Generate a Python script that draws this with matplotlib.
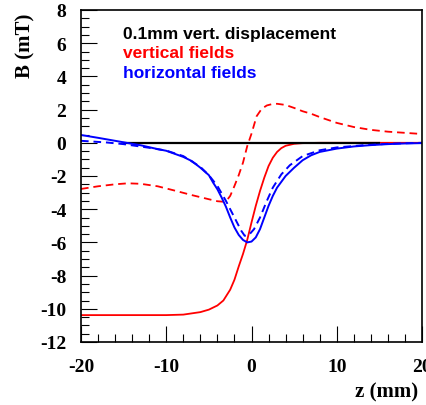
import matplotlib
matplotlib.use("Agg")
import matplotlib.pyplot as plt
from matplotlib.ticker import MultipleLocator

# --- data ---
z_red_solid = [-20, -15, -10, -8, -6, -5, -4, -3.3, -2.5, -2, -1.5, -1, -0.5, 0, 0.5, 1, 1.5, 2, 2.5, 3, 3.5, 4, 5, 6, 8, 12, 16, 20]
b_red_solid = [-10.38, -10.38, -10.38, -10.35, -10.2, -10.05, -9.8, -9.5, -8.85, -8.25, -7.45, -6.7, -5.85, -4.8, -3.8, -2.9, -2.1, -1.4, -0.9, -0.55, -0.32, -0.18, -0.06, -0.02, 0.0, 0.0, 0.0, 0.0]

z_red_dash = [-20, -18, -16, -14.5, -13, -11, -9, -7, -5, -4, -3.3, -2.8, -2.5, -2, -1.5, -1, -0.5, 0, 0.6, 1.2, 1.8, 2.4, 3, 4, 5, 6, 7, 8, 10, 12, 14, 16, 18, 20]
b_red_dash = [-2.78, -2.62, -2.5, -2.44, -2.47, -2.62, -2.88, -3.15, -3.4, -3.52, -3.55, -3.4, -3.2, -2.6, -1.95, -1.2, -0.2, 0.55, 1.6, 2.05, 2.25, 2.33, 2.35, 2.28, 2.1, 1.9, 1.75, 1.55, 1.2, 0.95, 0.78, 0.67, 0.6, 0.53]

z_blue_solid = [-20, -18, -16, -15, -13, -11, -10, -8, -7, -6, -5, -4.5, -4, -3.5, -3, -2.5, -2, -1.5, -1, -0.5, 0, 0.5, 1, 1.5, 2, 2.5, 3, 4, 5, 6, 7, 8, 9, 10, 12, 14, 16, 18, 20]
b_blue_solid = [0.47, 0.3, 0.12, 0.03, -0.15, -0.38, -0.48, -0.85, -1.1, -1.5, -1.95, -2.4, -2.8, -3.3, -3.85, -4.5, -5.1, -5.55, -5.85, -6.0, -5.95, -5.7, -5.2, -4.5, -3.8, -3.2, -2.7, -2.0, -1.5, -1.05, -0.75, -0.55, -0.45, -0.35, -0.22, -0.14, -0.08, -0.04, -0.02]

z_blue_dash = [-20, -17, -15, -12, -10, -8, -6, -5, -4, -3, -2, -1.2, -0.8, -0.3, 0.3, 1, 1.8, 2.5, 3.5, 4.5, 6, 8, 10, 13, 16, 20]
b_blue_dash = [0.12, 0.02, -0.08, -0.3, -0.47, -0.8, -1.45, -1.95, -2.6, -3.5, -4.5, -5.3, -5.6, -5.55, -5.2, -4.5, -3.5, -2.7, -1.9, -1.35, -0.8, -0.45, -0.28, -0.15, -0.06, 0.0]

zero_line_z = [-15, 15]
zero_line_b = [0, 0]

legend_lines = ["0.1mm vert. displacement", "vertical fields", "horizontal fields"]
legend_colors = ["black", "#ff0000", "#0000ff"]

x_ticks = [-20, -10, 0, 10, 20]
y_ticks = [-12, -10, -8, -6, -4, -2, 0, 2, 4, 6, 8]

# --- figure ---
plt.rcParams['lines.scale_dashes'] = False
plt.rcParams['axes.unicode_minus'] = False
fig = plt.figure(figsize=(4.26, 4.06), dpi=100)
ax = fig.add_axes([81/426, 1-343/406, (422-81)/426, (343-11)/406])

red = "#ff0000"
blue = "#0000ff"
ax.plot(z_red_solid, b_red_solid, color=red, lw=1.3)
ax.plot(zero_line_z, zero_line_b, color="black", lw=1.6)
ax.plot(z_red_dash, b_red_dash, color=red, lw=1.3, dashes=(5.5, 3.5))
ax.plot(z_blue_solid, b_blue_solid, color=blue, lw=1.4)
ax.plot(z_blue_dash, b_blue_dash, color=blue, lw=1.4, dashes=(5.5, 3.5))

ax.set_xlim(-20, 20)
ax.set_ylim(-12, 8)
ax.set_xticks(x_ticks)
ax.set_yticks(y_ticks)
ax.set_xticklabels([str(v) for v in x_ticks])
ax.set_yticklabels([str(v) for v in y_ticks])
ax.xaxis.set_minor_locator(MultipleLocator(2))
ax.yaxis.set_minor_locator(MultipleLocator(0.5))
ax.tick_params(which='both', direction='in', top=False, right=False, color='black', width=0.8)
ax.tick_params(which='major', length=11.3)
ax.tick_params(which='minor', length=5.8)

serif = ['Liberation Serif', 'DejaVu Serif']
for lab in ax.get_xticklabels() + ax.get_yticklabels():
    lab.set_fontfamily(serif)
    lab.set_fontweight('bold')
    lab.set_fontsize(14)
ax.tick_params(axis='y', pad=10.5)
ax.tick_params(axis='x', pad=11.5)

for s in ax.spines.values():
    s.set_linewidth(1.2)

fig.text(25/426, 1-46/406, "B (mT)", rotation=90, ha='center', va='center',
         fontfamily=serif, fontweight='bold', fontsize=15)
fig.text(418/426, 1-392/406, "z (mm)", ha='right', va='center',
         fontfamily=serif, fontweight='bold', fontsize=15)

ys = [34, 53, 73]
for t, c, y in zip(legend_lines, legend_colors, ys):
    fig.text(123/426, 1-y/406, t, color=c, ha='left', va='center',
             fontfamily=['Liberation Sans', 'DejaVu Sans'], fontweight='bold', fontsize=12.5)

fig.savefig("out.png", dpi=100)
